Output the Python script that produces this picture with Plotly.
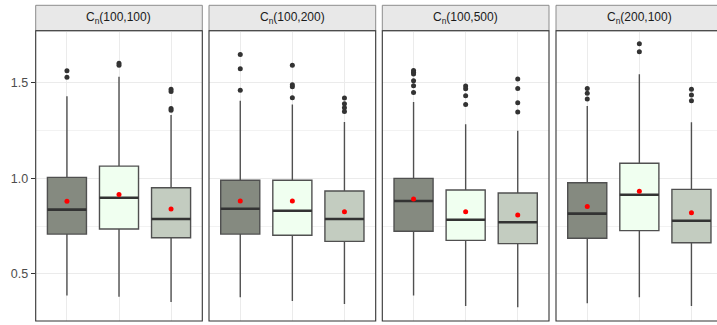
import plotly.graph_objects as go

# Facet labels and box-plot statistics (3 boxes per facet)
panels = ["C<sub>n</sub>(100,100)", "C<sub>n</sub>(100,200)", "C<sub>n</sub>(100,500)", "C<sub>n</sub>(200,100)"]
groups = [1, 2, 3]
fills = ["#858a80", "#f0fff0", "#c3ccc0"]

q1 = [[0.708, 0.735, 0.689], [0.708, 0.702, 0.670], [0.723, 0.675, 0.658], [0.686, 0.726, 0.663]]
median = [[0.836, 0.898, 0.787], [0.841, 0.830, 0.787], [0.881, 0.783, 0.770], [0.815, 0.914, 0.778]]
q3 = [[1.005, 1.064, 0.951], [0.990, 0.990, 0.934], [1.000, 0.939, 0.923], [0.977, 1.079, 0.942]]
lower = [[0.387, 0.380, 0.352], [0.377, 0.358, 0.342], [0.387, 0.331, 0.325], [0.346, 0.377, 0.331]]
upper = [[1.430, 1.532, 1.331], [1.406, 1.387, 1.295], [1.400, 1.283, 1.249], [1.379, 1.545, 1.293]]
means = [[0.880, 0.916, 0.839], [0.881, 0.881, 0.825], [0.892, 0.825, 0.808], [0.853, 0.932, 0.820]]
outliers = [
    [[1.563, 1.529], [1.602, 1.592], [1.466, 1.455, 1.366, 1.356]],
    [[1.649, 1.574, 1.461], [1.592, 1.490, 1.480, 1.422], [1.420, 1.390, 1.370, 1.350]],
    [[1.565, 1.555, 1.546, 1.511, 1.485, 1.450], [1.483, 1.469, 1.432, 1.387], [1.520, 1.471, 1.396, 1.347]],
    [[1.471, 1.446, 1.415], [1.705, 1.663], [1.466, 1.436, 1.406]],
]

W, H = 717, 325
panel_px = [(35.7, 202.3), (209.0, 375.7), (382.3, 549.0), (556.0, 722.7)]
top_px, bottom_px, strip_top_px = 30.7, 321.0, 5.3
yrange = [0.253, 1.773]
box_w = 0.75


def px_x(v):
    return v / W


def px_y(v):
    return 1 - v / H


fig = go.Figure()
layout = {}
shapes = []
annotations = []

for p in range(4):
    sfx = "" if p == 0 else str(p + 1)
    xa, ya = "x" + sfx, "y" + sfx
    left, right = panel_px[p]
    full_w = right - left
    unit = full_w / 3.2
    vis_right = min(right, W)
    xmax = 0.4 + (vis_right - left) / unit

    for g in range(3):
        x0 = groups[g]
        fig.add_trace(go.Box(
            x=[x0], q1=[q1[p][g]], median=[median[p][g]], q3=[q3[p][g]],
            lowerfence=[lower[p][g]], upperfence=[upper[p][g]],
            width=box_w, whiskerwidth=0, boxpoints=False,
            fillcolor=fills[g], line=dict(color="#505050", width=1.4),
            xaxis=xa, yaxis=ya, showlegend=False, hoverinfo="skip",
        ))
        # thicker median bar
        fig.add_trace(go.Scatter(
            x=[x0 - box_w / 2, x0 + box_w / 2], y=[median[p][g]] * 2,
            mode="lines", line=dict(color="#333333", width=2.6),
            xaxis=xa, yaxis=ya, showlegend=False, hoverinfo="skip",
        ))
        fig.add_trace(go.Scatter(
            x=[x0] * len(outliers[p][g]), y=outliers[p][g], mode="markers",
            marker=dict(color="#333333", size=5),
            xaxis=xa, yaxis=ya, showlegend=False, hoverinfo="skip",
        ))
        fig.add_trace(go.Scatter(
            x=[x0], y=[means[p][g]], mode="markers",
            marker=dict(color="#ff0000", size=5),
            xaxis=xa, yaxis=ya, showlegend=False, hoverinfo="skip",
        ))

    layout["xaxis" + sfx] = dict(
        domain=[px_x(left), min(1.0, px_x(right))], range=[0.4, xmax],
        anchor=ya, tickvals=groups, showticklabels=False, ticks="",
        showgrid=True, gridcolor="#ebebeb", gridwidth=1, zeroline=False,
        showline=False,
    )
    layout["yaxis" + sfx] = dict(
        domain=[px_y(bottom_px), px_y(top_px)], range=yrange, anchor=xa,
        tickvals=[0.5, 1.0, 1.5], ticktext=["0.5", "1.0", "1.5"],
        showticklabels=(p == 0), ticks="outside" if p == 0 else "",
        ticklen=4, tickcolor="#333333", tickwidth=1,
        tickfont=dict(family="Liberation Sans, Arial", size=12.5, color="#4d4d4d"),
        showgrid=True, gridcolor="#ebebeb", gridwidth=1, zeroline=False,
        showline=False,
        minor=dict(tickvals=[0.75, 1.25], showgrid=True, gridcolor="#f2f2f2", gridwidth=1, ticks=""),
    )

    # panel border
    shapes.append(dict(type="rect", xref="paper", yref="paper",
                       x0=px_x(left), x1=px_x(right), y0=px_y(bottom_px), y1=px_y(top_px),
                       line=dict(color="#333333", width=1.1), fillcolor="rgba(0,0,0,0)", layer="above"))
    # facet strip
    shapes.append(dict(type="rect", xref="paper", yref="paper",
                       x0=px_x(left), x1=px_x(right), y0=px_y(top_px), y1=px_y(strip_top_px),
                       line=dict(color="#8c8c8c", width=1), fillcolor="#e8e8e8", layer="below"))
    annotations.append(dict(
        text=panels[p], xref="paper", yref="paper",
        x=px_x((left + right) / 2), y=px_y((top_px + strip_top_px) / 2),
        xanchor="center", yanchor="middle", showarrow=False,
        font=dict(family="Liberation Sans, Arial", size=12, color="#1a1a1a"),
    ))

fig.update_layout(
    width=W, height=H, margin=dict(l=0, r=0, t=0, b=0),
    paper_bgcolor="white", plot_bgcolor="white",
    shapes=shapes, annotations=annotations, **layout,
)

fig.write_html("out.html")
